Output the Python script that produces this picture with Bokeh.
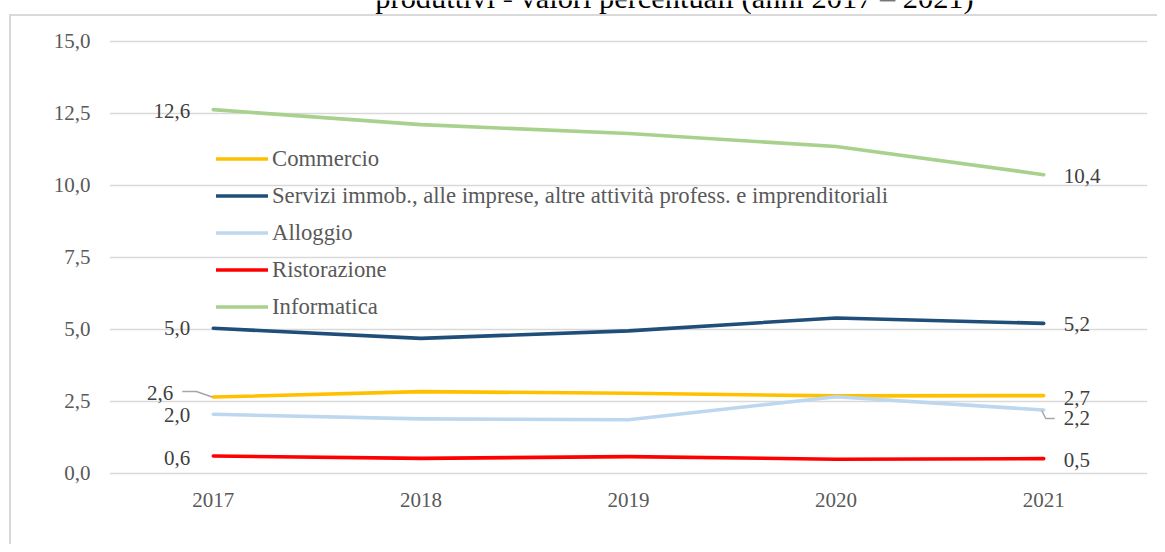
from bokeh.plotting import figure
from bokeh.models import (Range1d, FixedTicker, ColumnDataSource, Legend, LegendItem, Label)
from bokeh.core.properties import value
from bokeh.embed import file_html
from bokeh.resources import INLINE

# ---------------- data ----------------
years = ["2017", "2018", "2019", "2020", "2021"]
commercio = [2.64, 2.83, 2.77, 2.68, 2.69]
servizi = [5.03, 4.68, 4.94, 5.39, 5.20]
alloggio = [2.04, 1.88, 1.85, 2.65, 2.19]
ristorazione = [0.59, 0.51, 0.57, 0.48, 0.50]
informatica = [12.63, 12.11, 11.80, 11.35, 10.37]
series_names = ["Commercio",
                "Servizi immob., alle imprese, altre attività profess. e imprenditoriali",
                "Alloggio", "Ristorazione", "Informatica"]
y_ticks = [0, 2.5, 5, 7.5, 10, 12.5, 15]
title_text = "produttivi - valori percentuali (anni 2017 – 2021)"

# ---------------- styles ----------------
series = [commercio, servizi, alloggio, ristorazione, informatica]
colors = ["#FFC000", "#1F4E79", "#BDD7EE", "#FF0000", "#A9D18E"]
FONT = "Liberation Serif"
W, H = 1157, 544
ML, MR, MT, MB = 109, 10, 0, 62
PX_PER_UNIT = 28.77
frame_w = W - ML - MR
frame_h = H - MT - MB
Y0 = -0.33
Y1 = Y0 + frame_h / PX_PER_UNIT
X0, X1 = -0.5, 4.5
px_x = frame_w / (X1 - X0)
px_y = frame_h / (Y1 - Y0)

def fmt(v):
    return f"{v:.1f}".replace(".", ",")

xs = list(range(len(years)))

border_css = {
    "background-color": "white",
    "background-image": "linear-gradient(#d9d9d9, #d9d9d9), linear-gradient(#d9d9d9, #d9d9d9)",
    "background-size": "2px 100%, 100% 2px",
    "background-position": "9px 14px, 9px 14px",
    "background-repeat": "no-repeat",
}

p = figure(width=W, height=H, output_backend="svg", toolbar_location=None,
           x_range=Range1d(X0, X1), y_range=Range1d(Y0, Y1),
           min_border_left=ML, min_border_right=MR, min_border_top=MT, min_border_bottom=MB,
           background_fill_color=None, border_fill_color=None, styles=border_css)
p.outline_line_color = None

# axes
p.xaxis.ticker = FixedTicker(ticks=xs)
p.xaxis.major_label_overrides = {i: y for i, y in enumerate(years)}
p.yaxis.ticker = FixedTicker(ticks=y_ticks)
p.yaxis.major_label_overrides = {t: fmt(t) for t in y_ticks}
for ax in (p.xaxis, p.yaxis):
    ax.axis_line_color = None
    ax.major_tick_line_color = None
    ax.minor_tick_line_color = None
    ax.major_label_text_font = FONT
    ax.major_label_text_font_size = "21px"
    ax.major_label_text_color = "#595959"
p.xaxis.major_label_standoff = 4
p.yaxis.major_label_standoff = 13
p.xgrid.grid_line_color = None
p.ygrid.grid_line_color = "#d9d9d9"
p.ygrid.grid_line_width = 1.6

# lines
renderers = []
for vals, col in zip(series, colors):
    r = p.line(xs, vals, line_color=col, line_width=3.6, line_cap="round", line_join="round")
    renderers.append(r)

# data labels
left_xoff = [-40, -23, -23, -23, -23]
left_yoff = [-4, 0, 1, 1.5, 1]
right_xoff = [20, 20, 20, 20, 20]
right_yoff = [2, 1, 8, 1, 1]
lsrc = ColumnDataSource(dict(x=[xs[0]] * 5, y=[s[0] for s in series],
                             t=[fmt(s[0]) for s in series], xo=left_xoff, yo=left_yoff))
rsrc = ColumnDataSource(dict(x=[xs[-1]] * 5, y=[s[-1] for s in series],
                             t=[fmt(s[-1]) for s in series], xo=right_xoff, yo=right_yoff))
p.text(x="x", y="y", text="t", x_offset="xo", y_offset="yo", source=lsrc,
       text_align="right", text_baseline="middle", text_font=value(FONT),
       text_font_size="21px", text_color="#404040")
p.text(x="x", y="y", text="t", x_offset="xo", y_offset="yo", source=rsrc,
       text_align="left", text_baseline="middle", text_font=value(FONT),
       text_font_size="21px", text_color="#404040")

# leader lines (pixel offsets from the data point)
def leader(xi, yv, dxs, dys):
    return ([xi + dx / px_x for dx in dxs], [yv - dy / px_y for dy in dys])
lx, ly = leader(xs[0], commercio[0], [-31, -17, -1], [-5.6, -5.6, 0])
p.line(lx, ly, line_color="#a6a6a6", line_width=1.5)
lx, ly = leader(xs[-1], alloggio[-1], [-2, 2, 11], [0.5, 8.5, 8.5])
p.line(lx, ly, line_color="#a6a6a6", line_width=1.5)

# legend
legend = Legend(items=[LegendItem(label=n, renderers=[r]) for n, r in zip(series_names, renderers)],
                location=(107, 157), orientation="vertical",
                glyph_width=52, glyph_height=37, label_height=37, spacing=0,
                label_standoff=4, padding=0, margin=0,
                background_fill_alpha=0, border_line_color=None,
                label_text_font=FONT, label_text_font_size="22.7px", label_text_color="#595959")
p.add_layout(legend)

# title (cut off at the top edge, as in the reference)
p.add_layout(Label(x=674 - ML, y=frame_h + 3, x_units="screen", y_units="screen",
                   text=title_text, text_align="center", text_baseline="alphabetic",
                   text_font=FONT, text_font_size="30.4px", text_color="#000000"))

open("out.html", "w").write(file_html(p, INLINE))
